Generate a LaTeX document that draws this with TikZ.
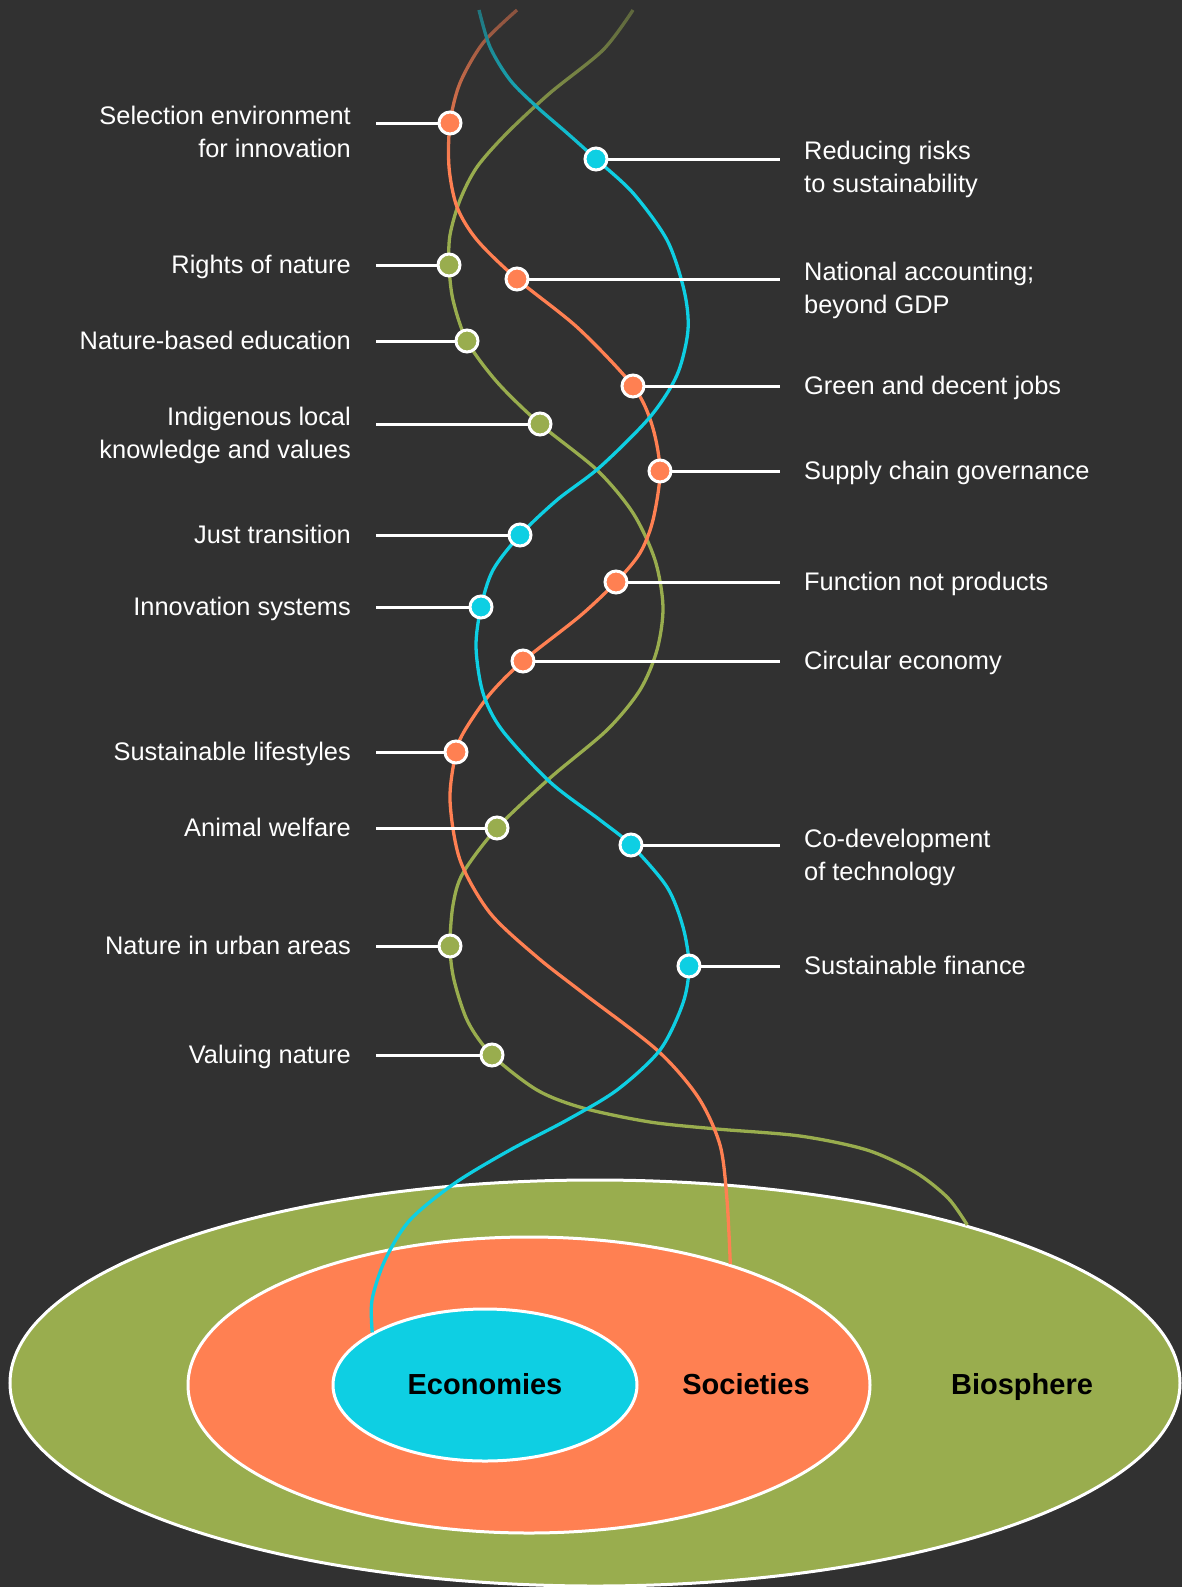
\documentclass[tikz,border=0pt]{standalone}
\usepackage{fontspec}
\setmainfont{Liberation Sans}
\usetikzlibrary{shapes.geometric,fadings}
\definecolor{bgcol}{HTML}{313131}
\definecolor{cyn}{HTML}{0ECFE3}
\definecolor{orng}{HTML}{FF8052}
\definecolor{grn}{HTML}{99AD4E}
\tikzfading[name=fadetop, top color=transparent!40, bottom color=transparent!100]
\begin{document}
\begin{tikzpicture}[x=1pt, y=-1pt,
		strand/.style={line width=3.3pt},
		conn/.style={white, line width=3pt},
		dot/.style={circle, draw=white, line width=3pt, minimum size=22pt, inner sep=0pt},
		lbl/.style={text=white, inner sep=0pt, font=\fontsize{25.4}{32.7}\selectfont},
		ring/.style={ellipse, draw=white, line width=3pt, inner sep=0pt},
		ringlbl/.style={text=black, inner sep=0pt, anchor=base, font=\bfseries\fontsize{29}{34}\selectfont}]
		% Background
		\fill [bgcol] (0,0) rectangle (1182,1587);
		\useasboundingbox (0,0) rectangle (1182,1587);
		% Rings
		\node [ring, fill=grn, minimum width=1170pt, minimum height=406pt] (bio) at (595,1383) {};
		\node [ring, fill=orng, minimum width=682pt, minimum height=296pt] (soc) at (529,1385) {};
		\node [ring, fill=cyn, minimum width=304pt, minimum height=152pt] (eco) at (485,1385) {};
		\node [ringlbl] (teco) at (485,1394) {Economies};
		\node [ringlbl] (tsoc) at (746,1394) {Societies};
		\node [ringlbl] (tbio) at (1022,1394) {Biosphere};
		% Points on the strands
		\coordinate (o1) at (450,123);
		\coordinate (o2) at (517,279);
		\coordinate (o3) at (633,386);
		\coordinate (o4) at (660,471);
		\coordinate (o5) at (616,582);
		\coordinate (o6) at (523,661);
		\coordinate (o7) at (456,752);
		\coordinate (g1) at (449,265);
		\coordinate (g2) at (467,341);
		\coordinate (g3) at (540,424);
		\coordinate (g4) at (497,828);
		\coordinate (g5) at (450,946);
		\coordinate (g6) at (492,1055);
		\coordinate (c1) at (596,159);
		\coordinate (c2) at (520,535);
		\coordinate (c3) at (481,607);
		\coordinate (c4) at (631,845);
		\coordinate (c5) at (689,966);
		% Strands
		\draw [strand, grn] plot [smooth] coordinates {(633,10) (603,50) (550,93) (507,133) (477,167) (460,200) (450,235) (g1) (453,300) (g2) (497,382) (g3) (597,470) (633,513) (655,560) (663,607) (657,650) (640,690) (607,730) (550,778) (g4) (463,873) (453,905) (g5) (454,980) (468,1022) (g6) (537,1090) (583,1108) (650,1122) (717,1129) (800,1136) (867,1150) (915,1172) (948,1198) (bio.23)};
		\draw [strand, orng] plot [smooth] coordinates {(517,10) (483,43) (460,83) (o1) (449,167) (457,207) (477,240) (o2) (578,328) (o3) (652,425) (o4) (653,520) (640,553) (o5) (580,616) (o6) (490,694) (465,730) (o7) (450,800) (460,860) (490,913) (537,957) (583,993) (657,1050) (698,1097) (720,1145) (727,1200) (soc.31)};
		\draw [strand, cyn] plot [smooth] coordinates {(479,10) (490,47) (510,80) (537,107) (567,133) (c1) (633,193) (667,240) (684,290) (688,330) (677,375) (650,417) (600,467) (557,500) (c2) (493,570) (c3) (476,647) (483,693) (502,730) (550,782) (600,820) (c4) (667,887) (683,927) (c5) (683,1003) (660,1050) (617,1090) (567,1120) (510,1150) (455,1183) (410,1220) (385,1260) (372,1300) (eco.155)};
		% Fade out at the top
		\fill [bgcol, path fading=fadetop] (420,0) rectangle (720,165);
		% Connectors
		\coordinate (lx) at (376,0);
		\coordinate (rx) at (780,0);
		\coordinate (lt) at (351,0);
		\coordinate (rt) at (804,0);
		\foreach \d in {o1,g1,g2,g3,c2,c3,o7,g4,g5,g6}
			\draw [conn] (\d -| lx) -- (\d);
		\foreach \d in {c1,o2,o3,o4,o5,o6,c4,c5}
			\draw [conn] (\d) -- (\d -| rx);
		% Dots
		\foreach \d/\c in {o1/orng,o2/orng,o3/orng,o4/orng,o5/orng,o6/orng,o7/orng,
				g1/grn,g2/grn,g3/grn,g4/grn,g5/grn,g6/grn,c1/cyn,c2/cyn,c3/cyn,c4/cyn,c5/cyn}
			\node [dot, fill=\c] (n\d) at (\d) {};
		% Labels (base = last line)
		\foreach \d/\dy/\txt in {o1/34/{Selection environment\\for innovation}, g1/8/{Rights of nature},
				g2/8/{Nature-based education}, g3/34/{Indigenous local\\knowledge and values},
				c2/8/{Just transition}, c3/8/{Innovation systems}, o7/8/{Sustainable lifestyles},
				g4/8/{Animal welfare}, g5/8/{Nature in urban areas}, g6/8/{Valuing nature}}
			\node [lbl, anchor=base east, align=right] (L\d) at ([yshift=-\dy pt]\d -| lt) {\txt};
		\foreach \d/\dy/\txt in {c1/33/{Reducing risks\\to sustainability}, o2/34/{National accounting;\\beyond GDP},
				o3/8/{Green and decent jobs}, o4/8/{Supply chain governance}, o5/8/{Function not products},
				o6/8/{Circular economy}, c4/35/{Co-development\\of technology}, c5/8/{Sustainable finance}}
			\node [lbl, anchor=base west, align=left] (R\d) at ([yshift=-\dy pt]\d -| rt) {\txt};
	\end{tikzpicture}
\end{document}
